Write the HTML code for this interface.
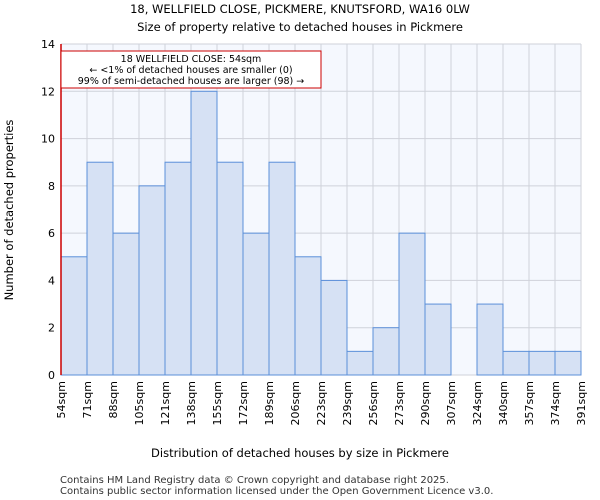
<!DOCTYPE html>
<html><head><meta charset="utf-8"><style>
body{margin:0;background:#fff;}
svg{display:block;font-family:"DejaVu Sans","Liberation Sans",sans-serif;}
</style></head><body>
<svg id="chart" width="600" height="500">
<text x="300" y="13" text-anchor="middle" font-size="11.5">18, WELLFIELD CLOSE, PICKMERE, KNUTSFORD, WA16 0LW</text>
<text x="300" y="31" text-anchor="middle" font-size="11.5">Size of property relative to detached houses in Pickmere</text>
<rect x="61" y="44" width="520" height="331" fill="#f5f8fe"/>
<g id="grid"></g>
<g id="bars"></g>
<g id="axes"></g>
<line x1="61" y1="44" x2="61" y2="375" stroke="#cc0000" stroke-width="1.5"/>
<rect x="61" y="51" width="260" height="37" fill="#fff" stroke="#cc0000" stroke-width="1"/>
<text x="191" y="62" text-anchor="middle" font-size="9.5">18 WELLFIELD CLOSE: 54sqm</text>
<text x="191" y="73" text-anchor="middle" font-size="9.5">← &lt;1% of detached houses are smaller (0)</text>
<text x="191" y="84" text-anchor="middle" font-size="9.5">99% of semi-detached houses are larger (98) →</text>
<text x="300" y="457" text-anchor="middle" font-size="11.5">Distribution of detached houses by size in Pickmere</text>
<text transform="translate(13,210) rotate(-90)" text-anchor="middle" font-size="11.5">Number of detached properties</text>
<text x="60" y="483" font-size="10" fill="#333">Contains HM Land Registry data © Crown copyright and database right 2025.</text>
<text x="60" y="494" font-size="10" fill="#333">Contains public sector information licensed under the Open Government Licence v3.0.</text>
</svg>
<script>
const categories=["54sqm","71sqm","88sqm","105sqm","121sqm","138sqm","155sqm","172sqm","189sqm","206sqm","223sqm","239sqm","256sqm","273sqm","290sqm","307sqm","324sqm","340sqm","357sqm","374sqm","391sqm"];
const counts=[5,9,6,8,9,12,9,6,9,5,4,1,2,6,3,0,3,1,1,1];
const yTicks=[0,2,4,6,8,10,12,14];
const NS="http://www.w3.org/2000/svg";
const X0=61,X1=581,Y0=375,Y1=44,YMAX=14;
const bw=(X1-X0)/counts.length;
function xs(i){return X0+i*bw;}
function ys(v){return Y0-(v/YMAX)*(Y0-Y1);}
function mk(tag,attrs,parent){const e=document.createElementNS(NS,tag);for(const k in attrs)e.setAttribute(k,attrs[k]);parent.appendChild(e);return e;}
const grid=document.getElementById('grid'),bars=document.getElementById('bars'),axes=document.getElementById('axes');
for(let i=0;i<categories.length;i++){
  const g=mk('line',{x1:xs(i),x2:xs(i),y1:Y1,y2:Y0,stroke:'#cfd2da',"stroke-width":1},grid);
  
  
}
yTicks.forEach(t=>{
  const g=mk('line',{x1:X0,x2:X1,y1:ys(t),y2:ys(t),stroke:'#cfd2da',"stroke-width":1},grid);
  
  
  const l=mk('text',{x:X0-6,y:ys(t)+4,"text-anchor":"end","font-size":11},axes);
  l.textContent=t;
  
  
});
counts.forEach((v,i)=>{
  if(v<=0)return;
  const r=mk('rect',{x:xs(i),y:ys(v),width:bw,height:Y0-ys(v),fill:'#d6e1f4',stroke:'#5b8fd9',"stroke-width":1},bars);
  
  
});
categories.forEach((c,i)=>{
  const x=xs(i);
  const l=mk('text',{transform:`translate(${x+4},${Y0+6}) rotate(-90)`,"text-anchor":"end","font-size":11},axes);
  l.textContent=c;
  
  
});
</script>
</body></html>
